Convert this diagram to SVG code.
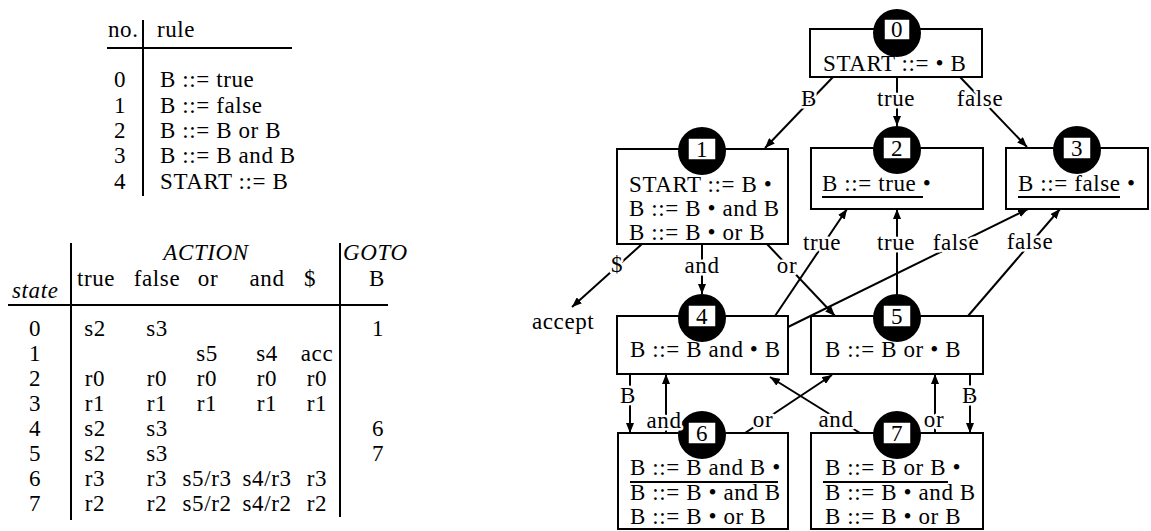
<svg xmlns="http://www.w3.org/2000/svg" width="1151" height="531" viewBox="0 0 1151 531">
<style>
text { font-family: "Liberation Serif", "Times New Roman", serif; font-size: 23px; fill: #000; letter-spacing: 0.6px; }
.it { font-style: italic; }
.c { text-anchor: middle; }
.ln { stroke: #000; stroke-width: 2; fill: none; }
.box { fill: #fff; stroke: #000; stroke-width: 2; }
.disc { fill: #000; }
.num { fill: #fff; stroke: #000; stroke-width: 1.5; }
.edge { stroke: #000; stroke-width: 2; fill: none; marker-end: url(#arr); }
.lbl { text-anchor: middle; stroke: #fff; stroke-width: 5; paint-order: stroke; stroke-linejoin: round; }
</style>
<defs>
<marker id="arr" viewBox="0 0 10 8" refX="10" refY="4" markerWidth="10" markerHeight="8" markerUnits="userSpaceOnUse" orient="auto"><path d="M0,0 L10,4 L0,8 z" fill="#000"/></marker>
</defs>
<rect width="1151" height="531" fill="#fff"/>

<g id="rule-table">
<text x="108" y="37">no.</text>
<text x="157" y="37">rule</text>
<line class="ln" x1="143" y1="20" x2="143" y2="196"/>
<line class="ln" x1="107" y1="48" x2="292" y2="48"/>
<text class="c" x="120" y="87">0</text><text x="160" y="87">B ::= true</text>
<text class="c" x="120" y="113">1</text><text x="160" y="113">B ::= false</text>
<text class="c" x="120" y="138">2</text><text x="160" y="138">B ::= B or B</text>
<text class="c" x="120" y="163">3</text><text x="160" y="163">B ::= B and B</text>
<text class="c" x="120" y="189">4</text><text x="160" y="189">START ::= B</text>
</g>

<g id="parse-table">
<line class="ln" x1="71" y1="243" x2="71" y2="520"/>
<line class="ln" x1="340" y1="243" x2="340" y2="517"/>
<line class="ln" x1="8" y1="305" x2="388" y2="305"/>
<text class="it c" x="206" y="260">ACTION</text>
<text class="it" x="343" y="260">GOTO</text>
<text class="c" x="96" y="286">true</text>
<text class="c" x="157" y="286">false</text>
<text class="c" x="208" y="286">or</text>
<text class="c" x="267" y="286">and</text>
<text class="c" x="310" y="286">$</text>
<text class="c" x="377" y="286">B</text>
<text class="it" x="12" y="298">state</text>
<text class="c" x="35" y="336">0</text><text class="c" x="95" y="336">s2</text><text class="c" x="157" y="336">s3</text><text class="c" x="378" y="336">1</text>
<text class="c" x="35" y="361">1</text><text class="c" x="207" y="361">s5</text><text class="c" x="267" y="361">s4</text><text class="c" x="317" y="361">acc</text>
<text class="c" x="35" y="386">2</text><text class="c" x="95" y="386">r0</text><text class="c" x="157" y="386">r0</text><text class="c" x="207" y="386">r0</text><text class="c" x="267" y="386">r0</text><text class="c" x="317" y="386">r0</text>
<text class="c" x="35" y="411">3</text><text class="c" x="95" y="411">r1</text><text class="c" x="157" y="411">r1</text><text class="c" x="207" y="411">r1</text><text class="c" x="267" y="411">r1</text><text class="c" x="317" y="411">r1</text>
<text class="c" x="35" y="436">4</text><text class="c" x="95" y="436">s2</text><text class="c" x="157" y="436">s3</text><text class="c" x="378" y="436">6</text>
<text class="c" x="35" y="461">5</text><text class="c" x="95" y="461">s2</text><text class="c" x="157" y="461">s3</text><text class="c" x="378" y="461">7</text>
<text class="c" x="35" y="486">6</text><text class="c" x="95" y="486">r3</text><text class="c" x="157" y="486">r3</text><text class="c" x="207" y="486">s5/r3</text><text class="c" x="267" y="486">s4/r3</text><text class="c" x="317" y="486">r3</text>
<text class="c" x="35" y="511">7</text><text class="c" x="95" y="511">r2</text><text class="c" x="157" y="511">r2</text><text class="c" x="207" y="511">s5/r2</text><text class="c" x="267" y="511">s4/r2</text><text class="c" x="317" y="511">r2</text>
</g>

<g id="state0">
<rect class="box" x="810" y="29" width="172" height="48"/>
<circle class="disc" cx="897" cy="33" r="24"/>
<rect class="num" x="884" y="19" width="26" height="21"/>
<text class="c" x="897" y="37">0</text>
<text x="823" y="71">START ::= • B</text>
</g>

<g id="state1">
<rect class="box" x="617" y="149" width="171" height="95"/>
<circle class="disc" cx="702" cy="151" r="24"/>
<rect class="num" x="688" y="138" width="28" height="22"/>
<text class="c" x="702" y="157">1</text>
<text x="629" y="192">START ::= B •</text>
<text x="629" y="216">B ::= B • and B</text>
<text x="629" y="240">B ::= B • or B</text>
</g>

<g id="state2">
<rect class="box" x="811" y="148" width="172" height="61"/>
<circle class="disc" cx="897" cy="150" r="24"/>
<rect class="num" x="883" y="137" width="28" height="22"/>
<text class="c" x="897" y="156">2</text>
<text x="822" y="191">B ::= true •</text>
<line class="ln" x1="822" y1="197" x2="923" y2="197"/>
</g>

<g id="state3">
<rect class="box" x="1006" y="148" width="142" height="61"/>
<circle class="disc" cx="1077" cy="150" r="24"/>
<rect class="num" x="1063" y="137" width="28" height="22"/>
<text class="c" x="1077" y="156">3</text>
<text x="1018" y="191">B ::= false •</text>
<line class="ln" x1="1018" y1="197" x2="1120" y2="197"/>
</g>

<g id="state4">
<rect class="box" x="617" y="316" width="171" height="58"/>
<circle class="disc" cx="702" cy="318" r="24"/>
<rect class="num" x="688" y="305" width="28" height="22"/>
<text class="c" x="702" y="324">4</text>
<text x="630" y="357">B ::= B and • B</text>
</g>

<g id="state5">
<rect class="box" x="811" y="316" width="172" height="58"/>
<circle class="disc" cx="897" cy="318" r="24"/>
<rect class="num" x="883" y="305" width="28" height="22"/>
<text class="c" x="897" y="324">5</text>
<text x="825" y="357">B ::= B or • B</text>
</g>

<g id="state6">
<rect class="box" x="618" y="433" width="170" height="96"/>
<circle class="disc" cx="702" cy="435" r="24"/>
<rect class="num" x="688" y="422" width="28" height="22"/>
<text class="c" x="702" y="441">6</text>
<text x="630" y="475">B ::= B and B •</text>
<line class="ln" x1="630" y1="482" x2="778" y2="482"/>
<text x="630" y="500">B ::= B • and B</text>
<text x="630" y="524">B ::= B • or B</text>
</g>

<g id="state7">
<rect class="box" x="811" y="433" width="172" height="96"/>
<circle class="disc" cx="897" cy="435" r="24"/>
<rect class="num" x="883" y="422" width="28" height="22"/>
<text class="c" x="897" y="441">7</text>
<text x="825" y="475">B ::= B or B •</text>
<line class="ln" x1="823" y1="482" x2="948" y2="482"/>
<text x="825" y="500">B ::= B • and B</text>
<text x="825" y="524">B ::= B • or B</text>
</g>

<g id="accept">
<text x="532" y="329">accept</text>
</g>

<g id="connectors">
<line class="edge" x1="833" y1="77" x2="765" y2="148"/>
<line class="edge" x1="897" y1="77" x2="897" y2="126"/>
<line class="edge" x1="960" y1="77" x2="1027" y2="147"/>
<line class="edge" x1="642" y1="244" x2="572" y2="307"/>
<line class="edge" x1="702" y1="244" x2="702" y2="294"/>
<line class="edge" x1="767" y1="244" x2="835" y2="316"/>
<line class="edge" x1="775" y1="316" x2="847" y2="209"/>
<line class="edge" x1="897" y1="294" x2="897" y2="209"/>
<line class="edge" x1="788" y1="327" x2="1028" y2="209"/>
<line class="edge" x1="968" y1="316" x2="1060" y2="209"/>
<line class="edge" x1="630" y1="374" x2="630" y2="433"/>
<line class="edge" x1="666" y1="433" x2="666" y2="374"/>
<line class="edge" x1="745" y1="433" x2="832" y2="375"/>
<line class="edge" x1="860" y1="433" x2="770" y2="377"/>
<line class="edge" x1="935" y1="433" x2="935" y2="374"/>
<line class="edge" x1="970" y1="374" x2="970" y2="433"/>
<text class="lbl" x="809" y="106">B</text>
<text class="lbl" x="896" y="106">true</text>
<text class="lbl" x="980" y="106">false</text>
<text class="lbl" x="617" y="272">$</text>
<text class="lbl" x="702" y="273">and</text>
<text class="lbl" x="787" y="273">or</text>
<text class="lbl" x="822" y="250">true</text>
<text class="lbl" x="896" y="250">true</text>
<text class="lbl" x="956" y="250">false</text>
<text class="lbl" x="1030" y="249">false</text>
<text class="lbl" x="628" y="403">B</text>
<text class="lbl" x="664" y="428">and</text>
<text class="lbl" x="763" y="427">or</text>
<text class="lbl" x="836" y="427">and</text>
<text class="lbl" x="934" y="427">or</text>
<text class="lbl" x="970" y="403">B</text>
</g>
</svg>
